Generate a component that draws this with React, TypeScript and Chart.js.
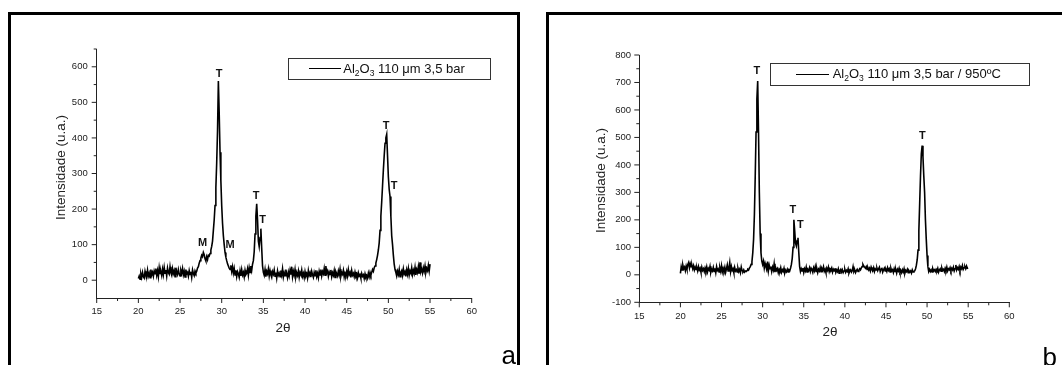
import React, { useEffect, useRef } from "react";
import { Chart, registerables } from "chart.js";

Chart.register(...registerables);

const FONT = "'Liberation Sans', Arial, Helvetica, sans-serif";
const AXIS_COLOR = "#222";
const TEXT_COLOR = "#222";

// 2θ sampling of both patterns
const TWO_THETA_START = 20;
const TWO_THETA_STEP = 0.1;

// (a) Al2O3 110 µm 3,5 bar — intensity, one row per degree (20.0 … 54.9, then 55.0)
const INTENSITY_A = [
  5, 12, 3, 18, 8, 22, 10, 6, 25, 14,
  9, 28, 12, 20, 7, 30, 15, 22, 11, 26,
  18, 33, 14, 27, 10, 35, 19, 24, 13, 31,
  16, 36, 20, 29, 12, 34, 22, 17, 38, 21,
  14, 32, 19, 27, 10, 35, 23, 16, 30, 18,
  12, 28, 20, 33, 15, 25, 9, 30, 18, 22,
  11, 27, 16, 24, 8, 29, 19, 13, 26, 20,
  25, 34, 38, 48, 55, 62, 70, 66, 78, 72,
  60, 54, 66, 58, 70, 68, 75, 85, 95, 110,
  140, 170, 210, 260, 330, 420, 560, 470, 360, 280,
  210, 160, 125, 100, 78, 65, 55, 46, 40, 34,
  30, 42, 25, 38, 20, 33, 15, 28, 10, 24,
  18, 8, 26, 12, 30, 15, 22, 9, 28, 16,
  20, 32, 14, 35, 22, 40, 28, 45, 55, 80,
  130, 180, 215, 170, 110, 95, 120, 145, 90, 40,
  22, 14, 30, 10, 25, 18, 32, 12, 27, 15,
  8, 24, 17, 29, 11, 22, 6, 26, 14, 20,
  10, 27, 15, 32, 9, 21, 13, 30, 18, 7,
  23, 12, 28, 16, 38, 10, 25, 14, 30, 9,
  20, 13, 26, 8, 22, 16, 29, 11, 19, 7,
  24, 12, 18, 6, 27, 14, 21, 9, 25, 15,
  8, 22, 13, 28, 10, 19, 7, 25, 15, 30,
  12, 24, 18, 33, 14, 40, 20, 26, 11, 23,
  16, 29, 10, 21, 14, 27, 8, 24, 18, 12,
  26, 15, 31, 11, 22, 17, 28, 9, 20, 14,
  25, 12, 30, 16, 22, 8, 27, 14, 19, 10,
  23, 13, 18, 7, 21, 12, 16, 6, 19, 11,
  15, 5, 18, 9, 13, 6, 20, 10, 22, 14,
  22, 30, 25, 35, 40, 48, 58, 70, 85, 105,
  140, 180, 220, 265, 310, 350, 385, 400, 410, 350,
  290, 255, 235, 180, 125, 100, 70, 45, 30, 22,
  12, 25, 16, 30, 10, 22, 27, 14, 32, 18,
  24, 11, 29, 17, 33, 14, 26, 20, 35, 16,
  28, 19, 36, 15, 30, 22, 38, 18, 50, 24,
  31, 20, 35, 25, 40, 22, 33, 27, 42, 26,
  45,
];

// (b) Al2O3 110 µm 3,5 bar / 950ºC — intensity
const INTENSITY_B = [
  5, 30, 18, 35, 22, 28, 15, 32, 20, 38,
  45, 25, 40, 30, 35, 22, 33, 18, 28, 20,
  26, 14, 30, 18, 24, 10, 28, 16, 22, 12,
  25, 15, 29, 11, 23, 17, 31, 9, 20, 14,
  27, 12, 24, 8, 30, 16, 21, 10, 26, 13,
  33, 11, 24, 15, 28, 9, 22, 36, 14, 25,
  45, 12, 30, 16, 22, 8, 27, 14, 19, 10,
  24, 12, 20, 8, 28, 15, 12, 18, 10, 14,
  12, 16, 20, 18, 25, 30, 38, 48, 80, 130,
  220, 360, 520, 640, 705, 520, 300, 150, 80, 50,
  38, 50, 25, 42, 30, 20, 48, 15, 35, 22,
  30, 12, 28, 18, 40, 10, 25, 16, 22, 8,
  20, 14, 26, 9, 18, 12, 24, 7, 16, 11,
  20, 10, 18, 15, 25, 38, 60, 100, 200, 160,
  115, 105, 125, 135, 80, 30, 12, 22, 14, 25,
  8, 22, 14, 28, 10, 20, 16, 26, 12, 24,
  18, 9, 25, 15, 30, 12, 22, 8, 20, 14,
  26, 11, 23, 17, 29, 13, 20, 8, 24, 16,
  28, 12, 22, 18, 25, 10, 20, 14, 24, 9,
  18, 12, 22, 6, 16, 20, 10, 18, 8, 14,
  20, 9, 16, 12, 22, 6, 14, 18, 10, 15,
  30, 12, 18, 8, 15, 20, 12, 16, 22, 18,
  25, 30, 38, 32, 28, 24, 30, 20, 26, 18,
  24, 14, 28, 20, 16, 26, 12, 22, 18, 25,
  15, 22, 28, 12, 20, 26, 10, 18, 24, 14,
  20, 12, 26, 16, 22, 10, 24, 14, 18, 8,
  22, 12, 18, 6, 20, 14, 24, 10, 16, 8,
  18, 10, 22, 6, 16, 12, 20, 8, 15, 10,
  14, 6, 18, 10, 12, 15, 22, 35, 55, 90,
  160, 260, 360, 440, 470, 430, 360, 300, 200, 130,
  70, 30, 12, 20, 12, 18, 10, 22, 14, 18,
  12, 20, 15, 24, 10, 18, 22, 13, 25, 16,
  20, 12, 24, 16, 28, 14, 22, 18, 26, 15,
  24, 18, 28, 14, 22, 36, 18, 26, 20, 30,
  16, 28, 22, 34, 20, 26, 30, 22, 32, 24,
  25,
];

const X_TICKS = [15, 20, 25, 30, 35, 40, 45, 50, 55, 60];
const X_MINOR = [17.5, 22.5, 27.5, 32.5, 37.5, 42.5, 47.5, 52.5, 57.5];

const Y_TICKS_A = [0, 100, 200, 300, 400, 500, 600];
const Y_MINOR_A = [50, 150, 250, 350, 450, 550, 650];
const Y_TICKS_B = [-100, 0, 100, 200, 300, 400, 500, 600, 700, 800];
const Y_MINOR_B = [-50, 50, 150, 250, 350, 450, 550, 650, 750];

const PEAKS_A = [
  { label: "T", x: 29.68, y: 581 },
  { label: "M", x: 27.72, y: 105 },
  { label: "M", x: 31.0, y: 98 },
  { label: "T", x: 34.12, y: 238 },
  { label: "T", x: 34.92, y: 168 },
  { label: "T", x: 49.72, y: 434 },
  { label: "T", x: 50.68, y: 264 },
];
const PEAKS_B = [
  { label: "T", x: 29.31, y: 741 },
  { label: "T", x: 33.69, y: 235 },
  { label: "T", x: 34.58, y: 181 },
  { label: "T", x: 49.42, y: 505 },
];

// legend text pieces: odd indices are subscripts
const LEGEND_A = ["Al", "2", "O", "3", " 110 \u03bcm 3,5 bar"];
const LEGEND_B = ["Al", "2", "O", "3", " 110 \u03bcm 3,5 bar / 950\u00baC"];

const X_TITLE = "2\u03b8";
const Y_TITLE = "Intensidade (u.a.)";

type Peak = { label: string; x: number; y: number };

interface PanelCfg {
  values: number[];
  yMin: number;
  yMax: number;
  yTicks: number[];
  yMinor: number[];
  peaks: Peak[];
  legend: string[];
  letter: string;
  pad: { left: number; right: number; top: number; bottom: number };
  yLabelPad: number;
  xLabelPad: number;
  yTitlePos: [number, number];
  xTitlePos: [number, number];
  legendBox: [number, number, number, number];
  legendLine: [number, number, number];
  legendText: [number, number];
  letterPos: [number, number];
  frame: { left: number; right: number | null };
}

const PANEL_A: PanelCfg = {
  values: INTENSITY_A,
  yMin: -50,
  yMax: 650,
  yTicks: Y_TICKS_A,
  yMinor: Y_MINOR_A,
  peaks: PEAKS_A,
  legend: LEGEND_A,
  letter: "a",
  pad: { left: 56.7, right: 59.3, top: 49, bottom: 37 },
  yLabelPad: 9,
  xLabelPad: 8,
  yTitlePos: [61.7, 167.5],
  xTitlePos: [283, 328],
  legendBox: [288.5, 58.5, 202, 21],
  legendLine: [309, 341, 68.5],
  legendText: [343.3, 72.5],
  letterPos: [501.5, 364],
  frame: { left: 8, right: 517 },
};

const PANEL_B: PanelCfg = {
  values: INTENSITY_B,
  yMin: -100,
  yMax: 800,
  yTicks: Y_TICKS_B,
  yMinor: Y_MINOR_B,
  peaks: PEAKS_B,
  legend: LEGEND_B,
  letter: "b",
  pad: { left: 68.3, right: 52.7, top: 55, bottom: 32.7 },
  yLabelPad: 8.3,
  xLabelPad: 8,
  yTitlePos: [70, 180.5],
  xTitlePos: [299, 332],
  legendBox: [239.5, 63.5, 259, 22],
  legendLine: [265, 298, 74.5],
  legendText: [301.7, 78],
  letterPos: [511.5, 366],
  frame: { left: 15, right: null },
};

function makeDecor(cfg: PanelCfg) {
  return {
    id: "decor",
    afterDraw(chart: any) {
      const { ctx, chartArea, scales } = chart;
      const { left, bottom } = chartArea;
      const x = scales.x;
      const y = scales.y;
      ctx.save();

      // tick marks
      ctx.strokeStyle = AXIS_COLOR;
      ctx.lineWidth = 1;
      ctx.beginPath();
      X_TICKS.forEach((v) => {
        const px = x.getPixelForValue(v);
        ctx.moveTo(px, bottom);
        ctx.lineTo(px, bottom + 5);
      });
      X_MINOR.forEach((v) => {
        const px = x.getPixelForValue(v);
        ctx.moveTo(px, bottom);
        ctx.lineTo(px, bottom + 3);
      });
      cfg.yTicks.forEach((v) => {
        const py = y.getPixelForValue(v);
        ctx.moveTo(left, py);
        ctx.lineTo(left - 5, py);
      });
      cfg.yMinor.forEach((v) => {
        const py = y.getPixelForValue(v);
        ctx.moveTo(left, py);
        ctx.lineTo(left - 3, py);
      });
      ctx.stroke();

      // axis titles
      ctx.fillStyle = TEXT_COLOR;
      ctx.font = `13.5px ${FONT}`;
      ctx.textAlign = "center";
      ctx.textBaseline = "middle";
      ctx.fillText(X_TITLE, cfg.xTitlePos[0], cfg.xTitlePos[1]);
      ctx.save();
      ctx.translate(cfg.yTitlePos[0], cfg.yTitlePos[1]);
      ctx.rotate(-Math.PI / 2);
      ctx.fillText(Y_TITLE, 0, 0);
      ctx.restore();

      // peak labels
      ctx.fillStyle = "#111";
      ctx.font = `bold 11px ${FONT}`;
      cfg.peaks.forEach((p) => {
        ctx.fillText(p.label, x.getPixelForValue(p.x), y.getPixelForValue(p.y));
      });

      // legend
      const [bx, by, bw, bh] = cfg.legendBox;
      ctx.strokeStyle = "#333";
      ctx.lineWidth = 1;
      ctx.strokeRect(bx, by, bw, bh);
      ctx.strokeStyle = "#000";
      ctx.beginPath();
      ctx.moveTo(cfg.legendLine[0], cfg.legendLine[2]);
      ctx.lineTo(cfg.legendLine[1], cfg.legendLine[2]);
      ctx.stroke();
      ctx.textAlign = "left";
      ctx.textBaseline = "alphabetic";
      ctx.fillStyle = "#111";
      let tx = cfg.legendText[0];
      const ty = cfg.legendText[1];
      cfg.legend.forEach((part, i) => {
        const sub = i % 2 === 1;
        ctx.font = sub ? `8.5px ${FONT}` : `13px ${FONT}`;
        ctx.fillText(part, tx, sub ? ty + 3 : ty);
        tx += ctx.measureText(part).width;
      });

      // panel frame
      ctx.fillStyle = "#000";
      const fl = cfg.frame.left;
      ctx.fillRect(fl, 12, 3, chart.height - 12);
      const fr = cfg.frame.right;
      const frameRight = fr === null ? chart.width : fr + 3;
      ctx.fillRect(fl, 12, frameRight - fl, 3);
      if (fr !== null) ctx.fillRect(fr, 12, 3, chart.height - 12);

      // panel letter
      ctx.fillStyle = "#000";
      ctx.font = `26px ${FONT}`;
      ctx.fillText(cfg.letter, cfg.letterPos[0], cfg.letterPos[1]);

      ctx.restore();
    },
  };
}

function Panel({ cfg, left }: { cfg: PanelCfg; left: number }) {
  const ref = useRef<HTMLCanvasElement | null>(null);

  useEffect(() => {
    if (!ref.current) return;
    const data = cfg.values.map((v, i) => ({
      x: Math.round((TWO_THETA_START + i * TWO_THETA_STEP) * 100) / 100,
      y: v,
    }));
    const tickFont = { family: FONT, size: 9.5 };
    const chart = new Chart(ref.current, {
      type: "line",
      data: {
        datasets: [
          {
            data,
            borderColor: "#000",
            borderWidth: 1.6,
            borderJoinStyle: "miter",
            pointRadius: 0,
            tension: 0,
            fill: false,
          },
        ],
      },
      options: {
        animation: false,
        responsive: false,
        events: [],
        layout: { padding: cfg.pad },
        plugins: { legend: { display: false }, tooltip: { enabled: false } },
        scales: {
          x: {
            type: "linear",
            min: 15,
            max: 60,
            afterBuildTicks: (s: any) => {
              s.ticks = X_TICKS.map((v) => ({ value: v }));
            },
            afterFit: (s: any) => {
              s.height = 30;
            },
            ticks: {
              font: tickFont,
              color: TEXT_COLOR,
              padding: cfg.xLabelPad,
              maxRotation: 0,
              autoSkip: false,
              callback: (v: any) => String(v),
            },
            grid: { display: true, drawOnChartArea: false, drawTicks: false },
            border: { display: true, color: AXIS_COLOR, width: 1 },
          },
          y: {
            type: "linear",
            min: cfg.yMin,
            max: cfg.yMax,
            afterBuildTicks: (s: any) => {
              s.ticks = cfg.yTicks.map((v) => ({ value: v }));
            },
            afterFit: (s: any) => {
              s.width = 40;
            },
            ticks: {
              font: tickFont,
              color: TEXT_COLOR,
              padding: cfg.yLabelPad,
              autoSkip: false,
              callback: (v: any) => String(v),
            },
            grid: { display: true, drawOnChartArea: false, drawTicks: false },
            border: { display: true, color: AXIS_COLOR, width: 1 },
          },
        },
      } as any,
      plugins: [makeDecor(cfg)],
    });
    return () => chart.destroy();
  }, [cfg]);

  return (
    <canvas
      ref={ref}
      width={531}
      height={365}
      style={{ position: "absolute", left, top: 0, width: 531, height: 365 }}
    />
  );
}

export default function App() {
  return (
    <div
      style={{
        position: "fixed",
        left: 0,
        top: 0,
        width: 1062,
        height: 365,
        background: "#fff",
        overflow: "hidden",
      }}
    >
      <Panel cfg={PANEL_A} left={0} />
      <Panel cfg={PANEL_B} left={531} />
    </div>
  );
}
